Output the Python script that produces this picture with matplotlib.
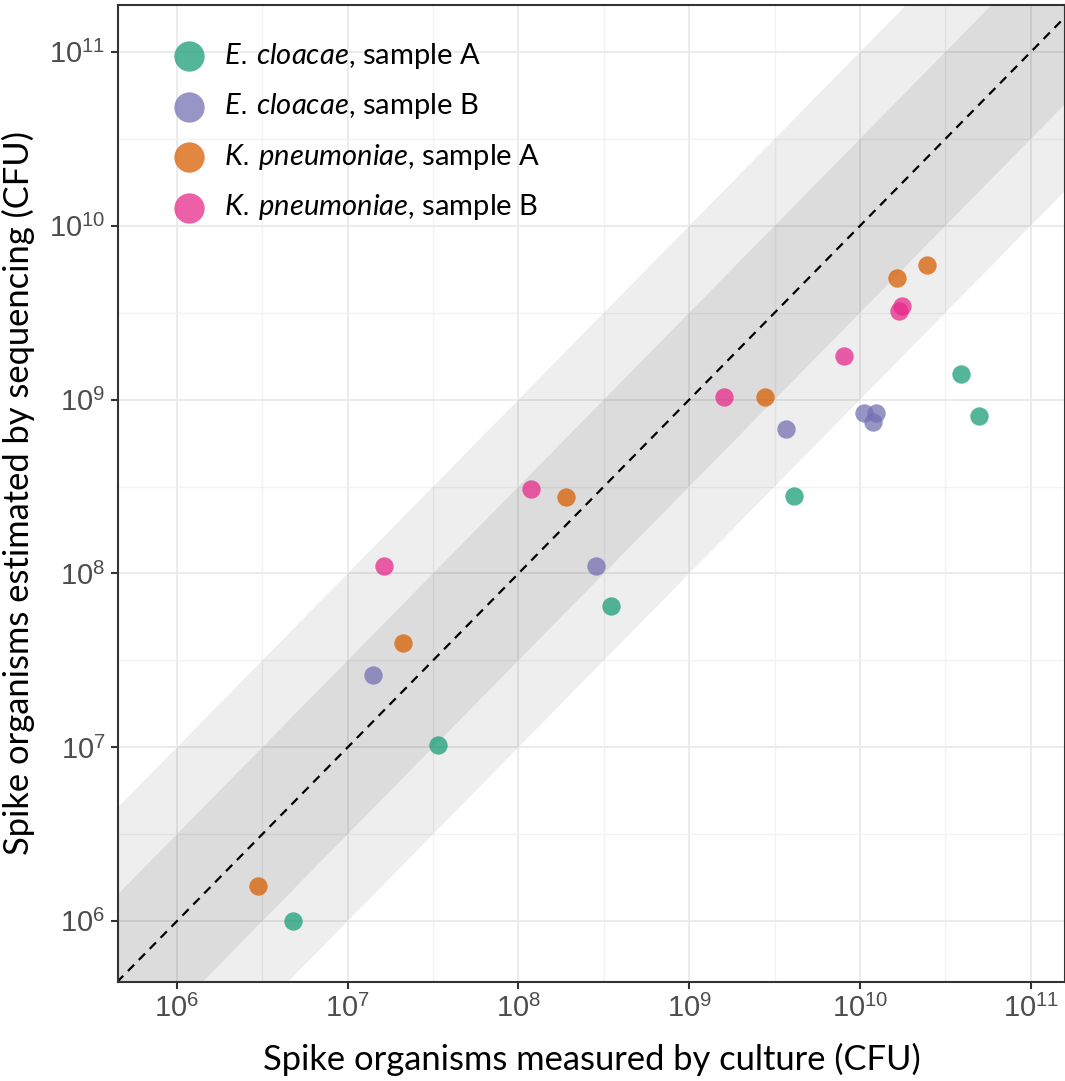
import numpy as np
import matplotlib
matplotlib.use('Agg')
import matplotlib.pyplot as plt

# culture (x) vs sequencing (y), CFU
ecl_a_x = [4.8e6, 3.4e7, 3.5e8, 4.1e9, 3.9e10, 5.0e10]
ecl_a_y = [1.0e6, 1.03e7, 6.5e7, 2.8e8, 1.41e9, 8.1e8]

ecl_b_x = [1.4e7, 2.86e8, 3.7e9, 1.05e10, 1.24e10, 1.19e10]
ecl_b_y = [2.6e7, 1.1e8, 6.8e8, 8.4e8, 8.4e8, 7.4e8]

kpn_a_x = [2.98e6, 2.1e7, 1.91e8, 2.78e9, 1.64e10, 2.47e10]
kpn_a_y = [1.59e6, 3.96e7, 2.77e8, 1.03e9, 5.0e9, 5.97e9]

kpn_b_x = [1.64e7, 1.19e8, 1.6e9, 8.05e9, 1.69e10, 1.76e10]
kpn_b_y = [1.1e8, 3.08e8, 1.03e9, 1.79e9, 3.24e9, 3.47e9]

labels = [r'$\mathit{E.\,cloacae}$, sample A', r'$\mathit{E.\,cloacae}$, sample B',
          r'$\mathit{K.\,pneumoniae}$, sample A', r'$\mathit{K.\,pneumoniae}$, sample B']
colors = ['#1B9E77', '#7570B3', '#D95F02', '#E7298A']

plt.rcParams['mathtext.fontset'] = 'custom'
plt.rcParams['mathtext.it'] = 'Lato:italic'
plt.rcParams['mathtext.rm'] = 'Liberation Sans'

fig = plt.figure(figsize=(10.65, 10.81), dpi=100)
ax = fig.add_axes([0.1108, 0.0916, 0.8892, 0.9038])

# bands: 1 decade (light) and half decade (dark) around y = x
xx = np.array([1e4, 1e13])
ax.fill_between(xx, xx / 10, xx * 10, color='black', alpha=0.067, lw=0, zorder=1)
ax.fill_between(xx, xx / 10**0.5, xx * 10**0.5, color='black', alpha=0.075, lw=0, zorder=1)
ax.plot(xx, xx, color='black', ls=(0, (4, 3)), lw=1.6, zorder=2)

for xs, ys, c, lab in zip([ecl_a_x, ecl_b_x, kpn_a_x, kpn_b_x],
                          [ecl_a_y, ecl_b_y, kpn_a_y, kpn_b_y], colors, labels):
    ax.scatter(xs, ys, s=175, color=c, alpha=0.75, lw=0, zorder=3, label=lab)

ax.set_xscale('log')
ax.set_yscale('log')

dec = [10.0**k for k in range(6, 12)]
ax.set_xticks(dec)
ax.set_yticks(dec)
ax.set_xticklabels([r'$10^{%d}$' % k for k in range(6, 12)])
ax.set_yticklabels([r'$10^{%d}$' % k for k in range(6, 12)])
half = [10.0**(k + 0.5) for k in range(5, 12)]
ax.set_xticks(half, minor=True)
ax.set_yticks(half, minor=True)
ax.set_xlim(10**5.655, 10**11.2)
ax.set_ylim(10**5.65, 10**11.27)

ax.tick_params(which='minor', length=0)
ax.tick_params(which='major', length=5, width=1.5, color='#333333',
               labelsize=21, labelcolor='#4D4D4D', pad=4)

ax.grid(which='major', color='#EBEBEB', lw=1.4, zorder=0)
ax.grid(which='minor', color='#F2F2F2', lw=1.0, zorder=0)
ax.set_axisbelow(True)

for s in ax.spines.values():
    s.set_color('#333333')
    s.set_linewidth(1.5)

ax.set_xlabel('Spike organisms measured by culture (CFU)', fontsize=24.8, family='Lato', labelpad=14)
ax.set_ylabel('Spike organisms estimated by sequencing (CFU)', fontsize=24.8, family='Lato', labelpad=10)

leg = ax.legend(loc='upper left', bbox_to_anchor=(0.016, 0.99), frameon=False,
                prop={'family': 'Lato', 'size': 21}, markerscale=1.65,
                handletextpad=0.2, labelspacing=0.7, borderpad=0.4)

plt.savefig('out.png', dpi=100)
